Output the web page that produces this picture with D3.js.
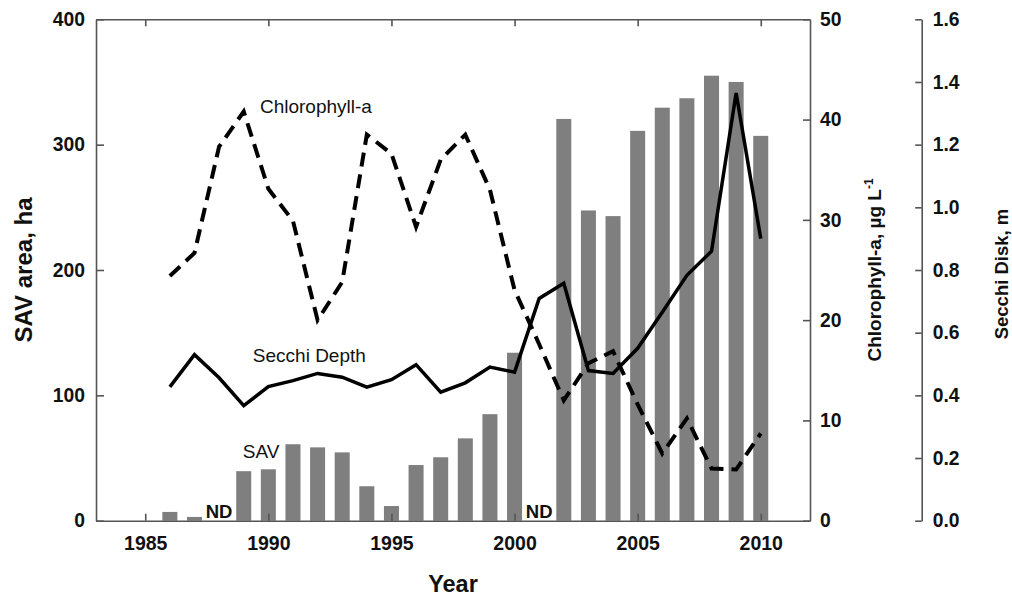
<!DOCTYPE html>
<html>
<head>
<meta charset="utf-8">
<script src="https://cdn.jsdelivr.net/npm/d3@7/dist/d3.min.js"></script>
<style>
  html, body { margin: 0; padding: 0; background: #fff; }
  svg { display: block; font-family: "Liberation Sans", Arial, sans-serif; }
</style>
</head>
<body>
<svg id="chart" width="1012" height="596"></svg>
<script>
// ---------------- data ----------------
const years = [1986, 1987, 1988, 1989, 1990, 1991, 1992, 1993, 1994, 1995, 1996, 1997, 1998,
               1999, 2000, 2001, 2002, 2003, 2004, 2005, 2006, 2007, 2008, 2009, 2010];
// SAV area, ha (null = no data, "ND")
const savArea = [7, 3, null, 39.5, 41, 61, 58.5, 54.5, 27.5, 11.7, 44.4, 50.6, 65.7,
                 85, 134, null, 320.5, 247.5, 243, 311, 329.5, 337, 355, 350, 307];
// Chlorophyll-a, ug/L
const chlorophyll = [24.4, 26.7, 37.3, 40.8, 33.1, 29.9, 20.0, 23.8, 38.5, 36.6, 29.3, 36.0, 38.5,
                     33.0, 23.0, 17.6, 12.0, 15.7, 16.9, 11.6, 6.7, 10.2, 5.2, 5.1, 8.7];
// Secchi depth, m
const secchi = [0.427, 0.53, 0.456, 0.367, 0.428, 0.447, 0.47, 0.458, 0.426, 0.45, 0.498, 0.41, 0.44,
                0.49, 0.474, 0.709, 0.758, 0.479, 0.47, 0.55, 0.665, 0.783, 0.86, 1.365, 0.90];

const yearTicks = [1985, 1990, 1995, 2000, 2005, 2010];
const savTicks = [0, 100, 200, 300, 400];
const chlTicks = [0, 10, 20, 30, 40, 50];
const secchiTicks = [0, 0.2, 0.4, 0.6, 0.8, 1.0, 1.2, 1.4, 1.6];

// ---------------- layout ----------------
const L = 96, R = 810, T = 19.3, B = 520.7, secchiX = 921.7;
const FONT = '"Liberation Sans", Arial, sans-serif';
const axisColor = "#555";

const svg = d3.select("#chart");

const x = d3.scaleLinear().domain([1983, 2012]).range([L, R]);
const ySav = d3.scaleLinear().domain([0, 400]).range([B, T]);
const yChl = d3.scaleLinear().domain([0, 50]).range([B, T]);
const ySec = d3.scaleLinear().domain([0, 1.6]).range([B, T]);

const step = x(1) - x(0);
const barW = step * 0.61;

// ---------------- bars ----------------
const rows = years.map((yr, i) => ({ yr, sav: savArea[i], chl: chlorophyll[i], sec: secchi[i] }));

svg.append("g")
  .selectAll("rect")
  .data(rows.filter(d => d.sav != null))
  .join("rect")
  .attr("x", d => x(d.yr) - barW / 2)
  .attr("width", barW)
  .attr("y", d => ySav(d.sav))
  .attr("height", d => ySav(0) - ySav(d.sav))
  .attr("fill", "#7f7f7f");

// ND labels
svg.append("g")
  .selectAll("text")
  .data(rows.filter(d => d.sav == null))
  .join("text")
  .attr("x", d => x(d.yr))
  .attr("y", ySav(0) - 2.5)
  .attr("text-anchor", "middle")
  .attr("font-size", 18.5)
  .attr("font-weight", "bold")
  .attr("fill", "#111")
  .text("ND");

// ---------------- lines ----------------
const chlLine = d3.line().x(d => x(d.yr)).y(d => yChl(d.chl));
const secLine = d3.line().x(d => x(d.yr)).y(d => ySec(d.sec));

svg.append("path")
  .datum(rows)
  .attr("d", chlLine)
  .attr("fill", "none")
  .attr("stroke", "#000")
  .attr("stroke-width", 4)
  .attr("stroke-dasharray", "14,8")
  .attr("stroke-linejoin", "miter");

svg.append("path")
  .datum(rows)
  .attr("d", secLine)
  .attr("fill", "none")
  .attr("stroke", "#000")
  .attr("stroke-width", 3.5)
  .attr("stroke-linejoin", "miter");

// ---------------- axes ----------------
function styleAxis(g, fontSize) {
  g.select(".domain").attr("stroke", axisColor).attr("stroke-width", 1.6);
  g.selectAll(".tick line").attr("stroke", axisColor).attr("stroke-width", 1.6);
  g.selectAll(".tick text")
    .attr("fill", "#111")
    .attr("font-size", fontSize)
    .attr("font-weight", "bold")
    .attr("font-family", FONT);
}

// bottom
svg.append("g")
  .attr("transform", `translate(0,${B})`)
  .call(d3.axisBottom(x).tickValues(yearTicks).tickFormat(d3.format("d"))
        .tickSizeInner(-7).tickSizeOuter(0).tickPadding(15.5))
  .call(g => styleAxis(g, 19.5));

// top (border with inward ticks)
svg.append("g")
  .attr("transform", `translate(0,${T})`)
  .call(d3.axisTop(x).tickValues(yearTicks).tickFormat("")
        .tickSizeInner(-7).tickSizeOuter(0))
  .call(g => styleAxis(g, 19));

// left SAV
svg.append("g")
  .attr("transform", `translate(${L},0)`)
  .call(d3.axisLeft(ySav).tickValues(savTicks).tickFormat(d3.format("d"))
        .tickSizeInner(-8).tickSizeOuter(0).tickPadding(11))
  .call(g => styleAxis(g, 19.3));

// right chlorophyll
svg.append("g")
  .attr("transform", `translate(${R},0)`)
  .call(d3.axisRight(yChl).tickValues(chlTicks).tickFormat(d3.format("d"))
        .tickSizeInner(-7).tickSizeOuter(0).tickPadding(10))
  .call(g => styleAxis(g, 19.3));

// far-right Secchi
svg.append("g")
  .attr("transform", `translate(${secchiX},0)`)
  .call(d3.axisRight(ySec).tickValues(secchiTicks).tickFormat(d3.format(".1f"))
        .tickSizeInner(-6.5).tickSizeOuter(0).tickPadding(11))
  .call(g => styleAxis(g, 19.3));

// ---------------- titles ----------------
svg.append("text")
  .attr("transform", `translate(32,270) rotate(-90)`)
  .attr("text-anchor", "middle")
  .attr("font-size", 24)
  .attr("font-weight", "bold")
  .attr("fill", "#111")
  .text("SAV area, ha");

svg.append("text")
  .attr("x", (L + R) / 2)
  .attr("y", 592)
  .attr("text-anchor", "middle")
  .attr("font-size", 23.5)
  .attr("font-weight", "bold")
  .attr("fill", "#111")
  .text("Year");

const chlTitle = svg.append("text")
  .attr("transform", `translate(881,270) rotate(-90)`)
  .attr("text-anchor", "middle")
  .attr("font-size", 19)
  .attr("font-weight", "bold")
  .attr("fill", "#111");
chlTitle.append("tspan").text("Chlorophyll-a, µg L");
chlTitle.append("tspan").attr("font-size", 12).attr("dy", -8).text("-1");

svg.append("text")
  .attr("transform", `translate(1008,274) rotate(-90)`)
  .attr("text-anchor", "middle")
  .attr("font-size", 18.5)
  .attr("font-weight", "bold")
  .attr("fill", "#111")
  .text("Secchi Disk, m");

// ---------------- series labels ----------------
svg.append("text")
  .attr("x", x(1989.66)).attr("y", yChl(40.65))
  .attr("font-size", 19).attr("fill", "#111")
  .text("Chlorophyll-a");

svg.append("text")
  .attr("x", x(1989.37)).attr("y", ySec(0.505))
  .attr("font-size", 19).attr("fill", "#111")
  .text("Secchi Depth");

svg.append("text")
  .attr("x", x(1988.96)).attr("y", ySav(50))
  .attr("font-size", 19).attr("fill", "#111")
  .text("SAV");
</script>
</body>
</html>
